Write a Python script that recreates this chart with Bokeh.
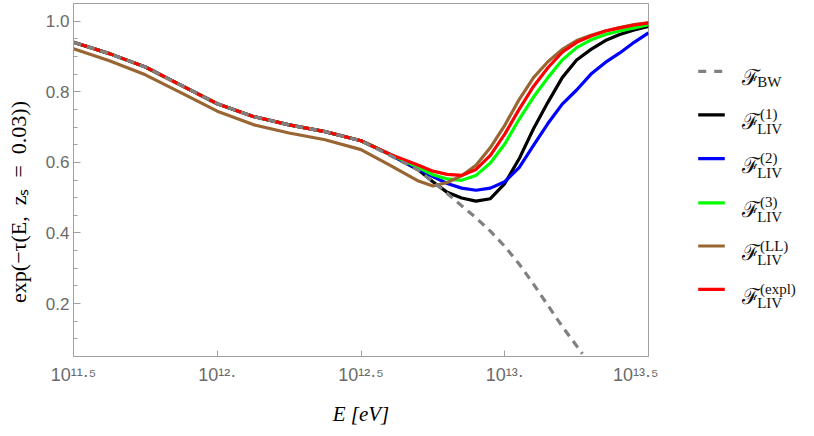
from bokeh.plotting import figure
from bokeh.models import Range1d, FixedTicker, PrintfTickFormatter, CustomJSTickFormatter
from bokeh.layouts import row
from bokeh.core.properties import value
from bokeh.embed import file_html
from bokeh.resources import INLINE

# ---------------- data ----------------
log_E = [11.5, 11.625, 11.75, 11.875, 12.0, 12.125, 12.25, 12.375, 12.5, 12.6,
         12.7, 12.75, 12.8, 12.85, 12.9, 12.95, 13.0, 13.05, 13.1, 13.15, 13.2,
         13.25, 13.3, 13.35, 13.4, 13.45, 13.5]

# part where F_BW and the LIV curves (except LL) coincide
shared_low = [0.940, 0.908, 0.870, 0.818, 0.766, 0.730, 0.706, 0.687, 0.661, 0.623]

F_LIV_1 = shared_low + [0.578, 0.545, 0.515, 0.499, 0.490, 0.497, 0.540, 0.610, 0.695,
                        0.770, 0.840, 0.890, 0.920, 0.945, 0.962, 0.975, 0.985]
F_LIV_2 = shared_low + [0.580, 0.560, 0.540, 0.527, 0.521, 0.527, 0.545, 0.585, 0.648,
                        0.710, 0.765, 0.805, 0.850, 0.883, 0.910, 0.940, 0.967]
F_LIV_3 = shared_low + [0.585, 0.565, 0.553, 0.549, 0.563, 0.598, 0.652, 0.722, 0.785,
                        0.840, 0.890, 0.925, 0.947, 0.962, 0.972, 0.981, 0.990]
F_LIV_LL = [0.922, 0.888, 0.848, 0.797, 0.745, 0.707, 0.683, 0.664, 0.636, 0.592,
            0.547, 0.533, 0.543, 0.562, 0.592, 0.642, 0.705, 0.778, 0.840,
            0.885, 0.920, 0.945, 0.960, 0.972, 0.982, 0.990, 0.995]
F_LIV_expl = shared_low + [0.592, 0.575, 0.566, 0.563, 0.580, 0.620, 0.680, 0.750, 0.815,
                           0.868, 0.912, 0.940, 0.958, 0.972, 0.981, 0.989, 0.995]

log_E_BW = [11.5, 11.625, 11.75, 11.875, 12.0, 12.125, 12.25, 12.375, 12.5, 12.6,
            12.7, 12.75, 12.8, 12.85, 12.9, 12.95, 13.0, 13.05, 13.1, 13.15, 13.2,
            13.25, 13.27]
F_BW = [0.940, 0.908, 0.870, 0.818, 0.766, 0.730, 0.706, 0.687, 0.661, 0.620,
        0.578, 0.545, 0.512, 0.477, 0.443, 0.405, 0.362, 0.312, 0.255, 0.195, 0.135,
        0.080, 0.058]

x_tick_exps = [11.5, 12.0, 12.5, 13.0, 13.5]
x_tick_labels = ["10\u00b9\u00b9\u00b7\u2075", "10\u00b9\u00b2\u00b7",
                 "10\u00b9\u00b2\u00b7\u2075", "10\u00b9\u00b3\u00b7",
                 "10\u00b9\u00b3\u00b7\u2075"]
y_ticks = [0.2, 0.4, 0.6, 0.8, 1.0]
y_minor_ticks = [0.1, 0.15, 0.25, 0.3, 0.35, 0.45, 0.5, 0.55, 0.65, 0.7, 0.75,
                 0.85, 0.9, 0.95]

legend_subs = ["BW", "LIV", "LIV", "LIV", "LIV", "LIV"]
legend_sups = ["", "(1)", "(2)", "(3)", "(LL)", "(expl)"]

# ---------------- styles ----------------
C_BW = "#808080"
C_1 = "#000000"
C_2 = "#0000ff"
C_3 = "#00ff00"
C_LL = "#996633"
C_EXPL = "#ff0000"
FRAME = "#a0a0a0"
TICKLBL = "#6a6a6a"
LW = 3.2

E = [10 ** v for v in log_E]
E_BW = [10 ** v for v in log_E_BW]

p = figure(width=658, height=428, x_axis_type="log",
           x_range=Range1d(10 ** 11.5, 10 ** 13.5), y_range=Range1d(0.05, 1.05),
           output_backend="svg", toolbar_location=None,
           min_border_left=73, min_border_right=10, min_border_top=3,
           min_border_bottom=70)
p.grid.visible = False
p.outline_line_color = FRAME
p.outline_line_width = 1
p.background_fill_color = "white"
p.border_fill_color = "white"

p.line(E, F_LIV_1, color=C_1, line_width=LW)
p.line(E, F_LIV_2, color=C_2, line_width=LW)
p.line(E, F_LIV_3, color=C_3, line_width=LW)
p.line(E, F_LIV_LL, color=C_LL, line_width=LW)
p.line(E, F_LIV_expl, color=C_EXPL, line_width=LW)
p.line(E_BW, F_BW, color=C_BW, line_width=LW, line_dash="8 6")

# x axis
xa = p.xaxis[0]
xa.ticker = FixedTicker(ticks=[10 ** v for v in x_tick_exps], minor_ticks=[])
xa.formatter = CustomJSTickFormatter(
    args=dict(labels=x_tick_labels, exps=x_tick_exps),
    code="""
const e = Math.log10(tick);
let best = 0;
for (let i = 0; i < exps.length; i++) {
  if (Math.abs(exps[i] - e) < Math.abs(exps[best] - e)) best = i;
}
return labels[best];
""")
xa.major_label_text_font = "Liberation Sans"
xa.major_label_text_font_size = "18px"
xa.major_label_text_color = TICKLBL
xa.major_label_standoff = 8
xa.axis_line_color = FRAME
xa.major_tick_line_color = FRAME
xa.major_tick_in = 6
xa.major_tick_out = 0
xa.minor_tick_line_color = None
xa.axis_label = "E [eV]"
xa.axis_label_text_font = "Liberation Serif"
xa.axis_label_text_font_style = "italic"
xa.axis_label_text_font_size = "21px"
xa.axis_label_text_color = "#000000"
xa.axis_label_standoff = 14

# y axis
ya = p.yaxis[0]
ya.ticker = FixedTicker(ticks=y_ticks, minor_ticks=y_minor_ticks)
ya.formatter = PrintfTickFormatter(format="%.1f")
ya.major_label_text_font = "Liberation Sans"
ya.major_label_text_font_size = "17px"
ya.major_label_text_color = TICKLBL
ya.major_label_standoff = 4
ya.axis_line_color = FRAME
ya.major_tick_line_color = FRAME
ya.minor_tick_line_color = FRAME
ya.major_tick_in = 7
ya.major_tick_out = 0
ya.minor_tick_in = 4
ya.minor_tick_out = 0
# trailing en spaces push the visible text slightly down, as in the reference
ya.axis_label = "exp(\u2212\u03c4(E,\u2002z\u209b\u2002=\u20020.03))\u2002\u2002\u2002\u2002"
ya.axis_label_text_font = "Liberation Serif"
ya.axis_label_text_font_style = "normal"
ya.axis_label_text_font_size = "22px"
ya.axis_label_text_color = "#000000"
ya.axis_label_standoff = 12

# ---------------- legend panel ----------------
LEG_W, LEG_H = 150, 428
q = figure(width=LEG_W, height=LEG_H, x_range=Range1d(0, LEG_W),
           y_range=Range1d(LEG_H, 0), output_backend="svg", toolbar_location=None,
           x_axis_location=None, y_axis_location=None,
           min_border=0, min_border_left=0, min_border_right=0,
           min_border_top=0, min_border_bottom=0)
q.grid.visible = False
q.outline_line_color = None

leg_colors = [C_BW, C_1, C_2, C_3, C_LL, C_EXPL]
leg_dash = ["8 8", "solid", "solid", "solid", "solid", "solid"]
leg_y = [82.3, 135, 188, 241.7, 294, 346.7]
sw_x0, sw_x1 = 39.7, 66.3
for yc, col, dash in zip(leg_y, leg_colors, leg_dash):
    q.line([sw_x0, sw_x1], [yc, yc], color=col, line_width=LW, line_dash=dash)

q.text(x=[83.0] * len(leg_y), y=[yc + 8 for yc in leg_y], text=["\u2131"] * len(leg_y),
       text_font=value("DejaVu Serif"), text_font_size=value("22px"),
       text_baseline="alphabetic", text_align="left", text_color="#111111")
q.text(x=[98.7] * len(leg_y),
       y=[yc + (12.7 if s == "" else 17) for yc, s in zip(leg_y, legend_sups)],
       text=legend_subs, text_font=value("Liberation Serif"),
       text_font_size=value("15px"), text_baseline="alphabetic", text_align="left",
       text_color="#111111")
q.text(x=[101.5] * len(leg_y), y=[yc - 0.5 for yc in leg_y], text=legend_sups,
       text_font=value("Liberation Serif"), text_font_size=value("15px"),
       text_baseline="alphabetic", text_align="left", text_color="#111111")

layout = row(p, q)
open("out.html", "w").write(file_html(layout, INLINE))
